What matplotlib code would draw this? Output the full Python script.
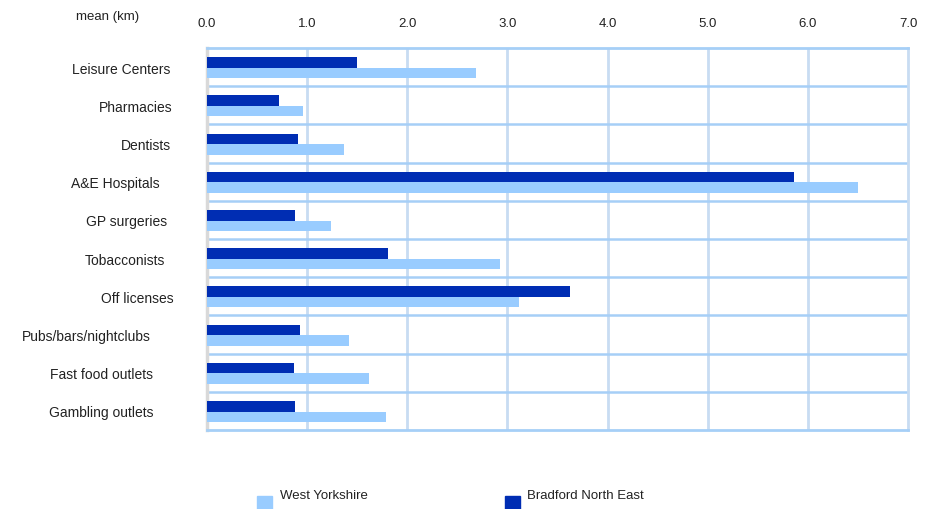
import matplotlib
matplotlib.use("Agg")
import matplotlib.pyplot as plt
import matplotlib.transforms as mtransforms
from matplotlib.patches import Rectangle
import numpy as np

plt.rcParams['font.family'] = ['Liberation Sans', 'DejaVu Sans']

categories = ["Leisure Centers", "Pharmacies", "Dentists", "A&E Hospitals", "GP surgeries",
              "Tobacconists", "Off licenses", "Pubs/bars/nightclubs", "Fast food outlets",
              "Gambling outlets"]
west_yorkshire = [2.69, 0.96, 1.37, 6.50, 1.24, 2.93, 3.12, 1.42, 1.62, 1.79]
bradford_ne = [1.50, 0.72, 0.91, 5.86, 0.88, 1.81, 3.62, 0.93, 0.87, 0.88]
xticks = [0, 1, 2, 3, 4, 5, 6, 7]
xticklabels = ["0.0", "1.0", "2.0", "3.0", "4.0", "5.0", "6.0", "7.0"]
series_names = ["West Yorkshire", "Bradford North East"]

W, H = 939, 510
fig = plt.figure(figsize=(W / 100, H / 100), dpi=100)
ax = fig.add_axes([207 / W, 1 - 431 / H, (908 - 207) / W, (431 - 49) / H])

LIGHT = "#99CCFF"
DARK = "#002DB3"
GRID_V = "#C8DCF2"
GRID_H = "#A6CFF7"

n = len(categories)
y = np.arange(n)
bh = 0.28
ax.barh(y - 0.12, bradford_ne, height=bh, color=DARK, zorder=3)
ax.barh(y + 0.155, west_yorkshire, height=0.27, color=LIGHT, zorder=3)

ax.set_xlim(0, 7)
ax.set_ylim(n - 0.5, -0.5)

ax.set_xticks(xticks)
ax.set_xticklabels(xticklabels, fontsize=9.5, color="#222222")
ax.xaxis.tick_top()
ax.tick_params(axis='x', length=0, pad=14)
ax.set_yticks([])

for xv in xticks[1:-1]:
    ax.axvline(xv, color=GRID_V, lw=2, zorder=1)
for k in range(1, n):
    ax.axhline(k - 0.5, color=GRID_H, lw=1.8, zorder=1)

ax.spines["top"].set_color(GRID_H)
ax.spines["top"].set_linewidth(2)
ax.spines["bottom"].set_color(GRID_H)
ax.spines["bottom"].set_linewidth(2)
ax.spines["right"].set_color(GRID_V)
ax.spines["right"].set_linewidth(2)
ax.spines["left"].set_color("#D9D9D9")
ax.spines["left"].set_linewidth(2.5)

# category labels (centered at individual positions as in the original)
label_cx = [121, 136, 146, 115, 127, 125, 137, 86, 102, 101]
trans = mtransforms.blended_transform_factory(fig.transFigure, ax.transData)
for i, (lab, cx) in enumerate(zip(categories, label_cx)):
    fig.text(cx / W, i + 0.04, lab, transform=trans, ha='center', va='center',
             fontsize=10, color="#222222")

fig.text(108 / W, 1 - 17 / H, "mean (km)", ha='center', va='center', fontsize=9.5, color="#222222")

# legend
fig.patches.append(Rectangle((257 / W, 0), 15 / W, 13.5 / H, transform=fig.transFigure,
                             color=LIGHT, zorder=5))
fig.text(280 / W, 1 - 496 / H, series_names[0], ha='left', va='center', fontsize=9.5, color="#222222")
fig.patches.append(Rectangle((505 / W, 0), 15 / W, 13.5 / H, transform=fig.transFigure,
                             color=DARK, zorder=5))
fig.text(527 / W, 1 - 496 / H, series_names[1], ha='left', va='center', fontsize=9.5, color="#222222")

fig.savefig("out.png", dpi=100)
